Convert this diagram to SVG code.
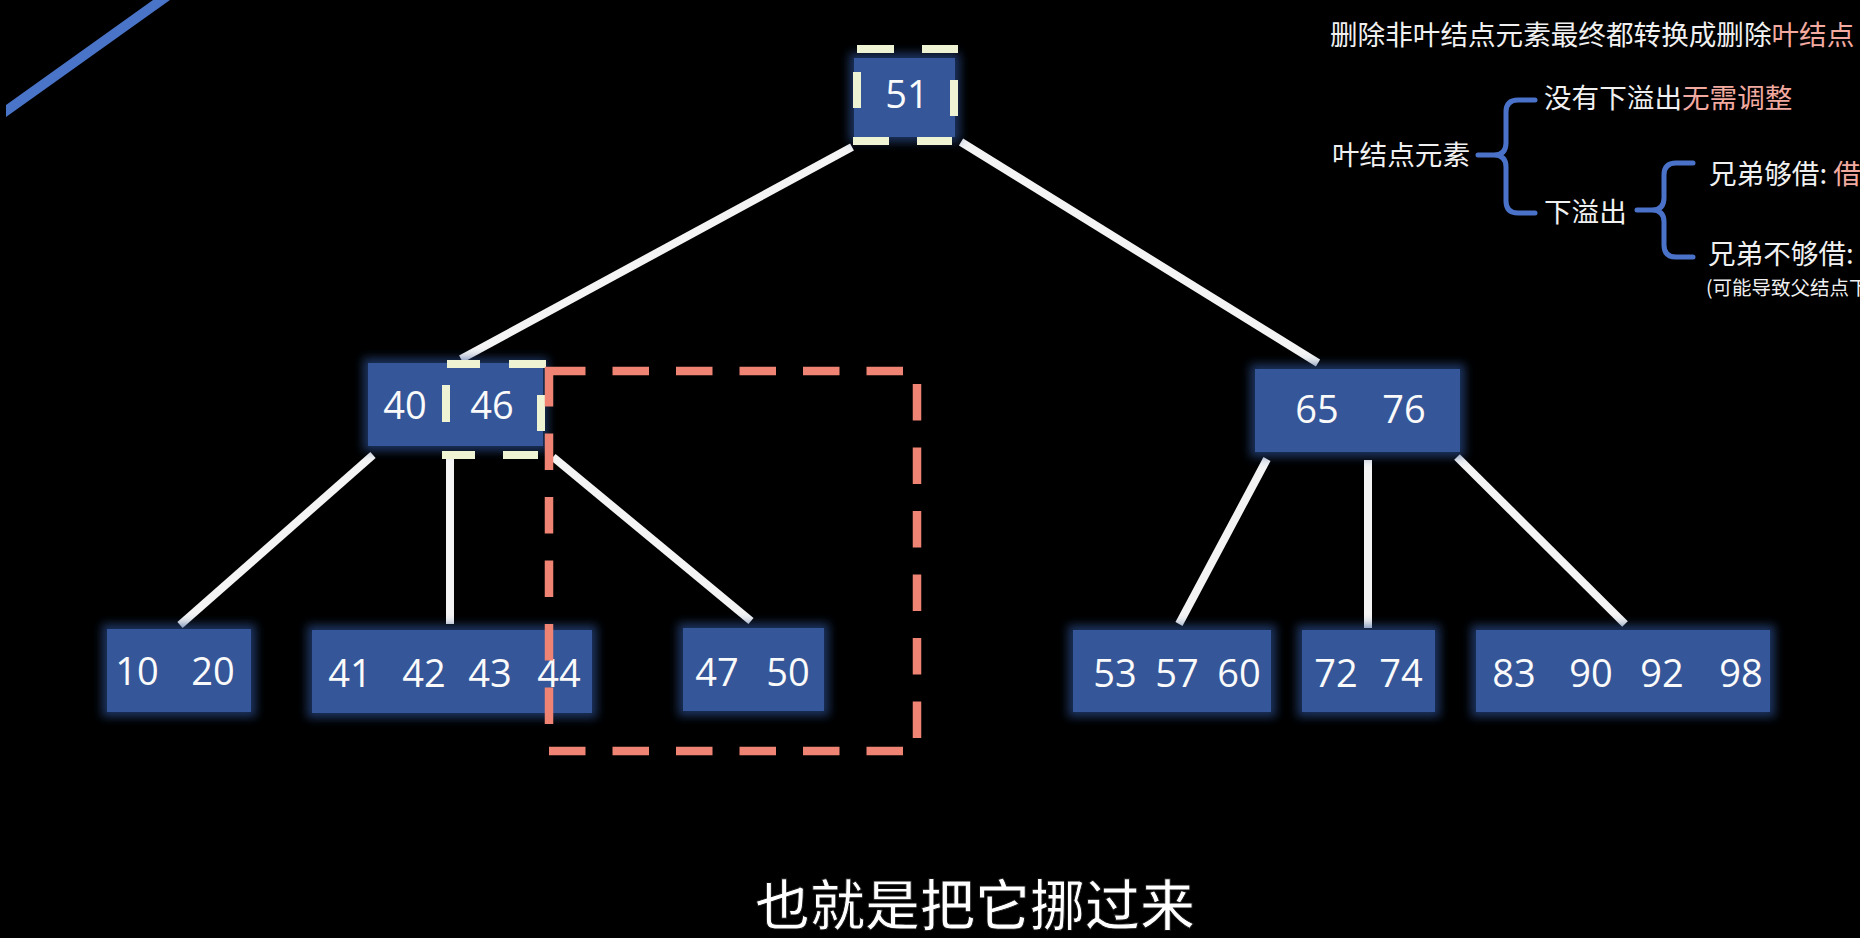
<svg xmlns="http://www.w3.org/2000/svg" width="1860" height="938" viewBox="0 0 1860 938">
<defs>
<style>
.bg{fill:#000}
.box{fill:#345798;filter:url(#glow)}
.num{font-family:"Open Sans","Noto Sans",sans-serif;font-size:38px;fill:#fafafa;text-anchor:middle}
.edge{stroke:#f4f4f4;stroke-width:8;fill:none}
.sel{stroke:#eef3d3;stroke-width:8;fill:none}
.red{stroke:#ef8474;stroke-width:8.5;fill:none;stroke-dasharray:36.5 27}
.brace{stroke:#4a72c8;stroke-width:5;fill:none;stroke-linecap:round;stroke-linejoin:round}
.cn{font-family:"Noto Sans CJK SC","Noto Sans",sans-serif;fill:#f0f0f0;font-size:27.6px}
.pink{fill:#f2aaa0}
.small{font-size:19.5px}
.sub{font-family:"Noto Sans CJK SC",sans-serif;font-size:55px;font-weight:500;fill:#fff;text-anchor:middle;stroke:#111;stroke-width:1}
</style>
<filter id="glow" x="-30%" y="-40%" width="160%" height="180%">
<feMorphology in="SourceAlpha" operator="dilate" radius="5" result="d"/>
<feGaussianBlur in="d" stdDeviation="5" result="b"/>
<feFlood flood-color="#2c4f92" flood-opacity="0.65"/>
<feComposite in2="b" operator="in" result="g"/>
<feMerge><feMergeNode in="g"/><feMergeNode in="SourceGraphic"/></feMerge>
</filter>
</defs>
<rect class="bg" x="0" y="0" width="1860" height="938"/>
<polygon points="6,105 6,117 170,0 153,0" fill="#4a74c8"/>

<g id="connectors">
<line class="edge" x1="852" y1="147" x2="461" y2="359"/>
<line class="edge" x1="961" y1="142" x2="1318" y2="363"/>
<line class="edge" x1="373" y1="455" x2="180" y2="625"/>
<line class="edge" x1="450" y1="456" x2="450" y2="624"/>
<line class="edge" x1="553" y1="457" x2="751" y2="621"/>
<line class="edge" x1="1267" y1="459" x2="1179" y2="624"/>
<line class="edge" x1="1368" y1="460" x2="1368" y2="628"/>
<line class="edge" x1="1457" y1="457" x2="1625" y2="624"/>
</g>

<g id="node-51">
<rect class="box" x="854" y="58" width="101" height="79"/>
<text class="num" x="907" y="108">51</text>
</g>
<g id="node-40-46">
<rect class="box" x="368" y="363" width="175" height="83"/>
<text class="num" x="405" y="419">40</text>
<text class="num" x="492" y="419">46</text>
</g>
<g id="node-65-76">
<rect class="box" x="1255" y="369" width="205" height="83"/>
<text class="num" x="1317" y="423">65</text>
<text class="num" x="1404" y="423">76</text>
</g>
<g id="node-10-20">
<rect class="box" x="107" y="629" width="144" height="83"/>
<text class="num" x="137" y="685">10</text>
<text class="num" x="213" y="685">20</text>
</g>
<g id="node-41-44">
<rect class="box" x="312" y="630" width="280" height="83"/>
<text class="num" x="350" y="687">41</text>
<text class="num" x="424" y="687">42</text>
<text class="num" x="490" y="687">43</text>
<text class="num" x="559" y="687">44</text>
</g>
<g id="node-47-50">
<rect class="box" x="683" y="628" width="141" height="83"/>
<text class="num" x="717" y="686">47</text>
<text class="num" x="788" y="686">50</text>
</g>
<g id="node-53-60">
<rect class="box" x="1073" y="630" width="198" height="82"/>
<text class="num" x="1115" y="687">53</text>
<text class="num" x="1177" y="687">57</text>
<text class="num" x="1239" y="687">60</text>
</g>
<g id="node-72-74">
<rect class="box" x="1302" y="630" width="133" height="82"/>
<text class="num" x="1336" y="687">72</text>
<text class="num" x="1401" y="687">74</text>
</g>
<g id="node-83-98">
<rect class="box" x="1476" y="630" width="294" height="82"/>
<text class="num" x="1514" y="687">83</text>
<text class="num" x="1591" y="687">90</text>
<text class="num" x="1662" y="687">92</text>
<text class="num" x="1741" y="687">98</text>
</g>

<g id="highlight-51">
<path class="sel" d="M857,49H894M922,49H958M857,72V108M954,80V116M853,141H889M917,141H952"/>
</g>
<g id="highlight-46">
<path class="sel" d="M447,364H480M509,364H546M446,385V422M541,395V431M442,455H475M503,455H538"/>
</g>
<g id="move-region">
<rect class="red" x="549" y="371" width="368" height="380"/>
</g>

<g id="notes">
<text class="cn" x="1330" y="45">删除非叶结点元素最终都转换成删除<tspan class="pink">叶结点</tspan></text>
<text class="cn" x="1544" y="108">没有下溢出<tspan class="pink">无需调整</tspan></text>
<text class="cn" x="1332" y="165">叶结点元素</text>
<text class="cn" x="1709" y="184">兄弟够借: <tspan class="pink">借</tspan></text>
<text class="cn" x="1544" y="222">下溢出</text>
<text class="cn" x="1708" y="264">兄弟不够借:</text>
<text class="cn small" x="1706" y="295">(可能导致父结点下</text>
<path class="brace" d="M1535,100H1518Q1506,100 1506,112V143Q1506,155 1494,155H1478M1494,155Q1506,155 1506,167V201Q1506,213 1518,213H1535"/>
<path class="brace" d="M1693,163H1676Q1664,163 1664,175V198Q1664,210 1652,210H1637M1652,210Q1664,210 1664,222V245Q1664,257 1676,257H1693"/>
</g>

<text class="sub" x="975" y="925">也就是把它挪过来</text>
</svg>
